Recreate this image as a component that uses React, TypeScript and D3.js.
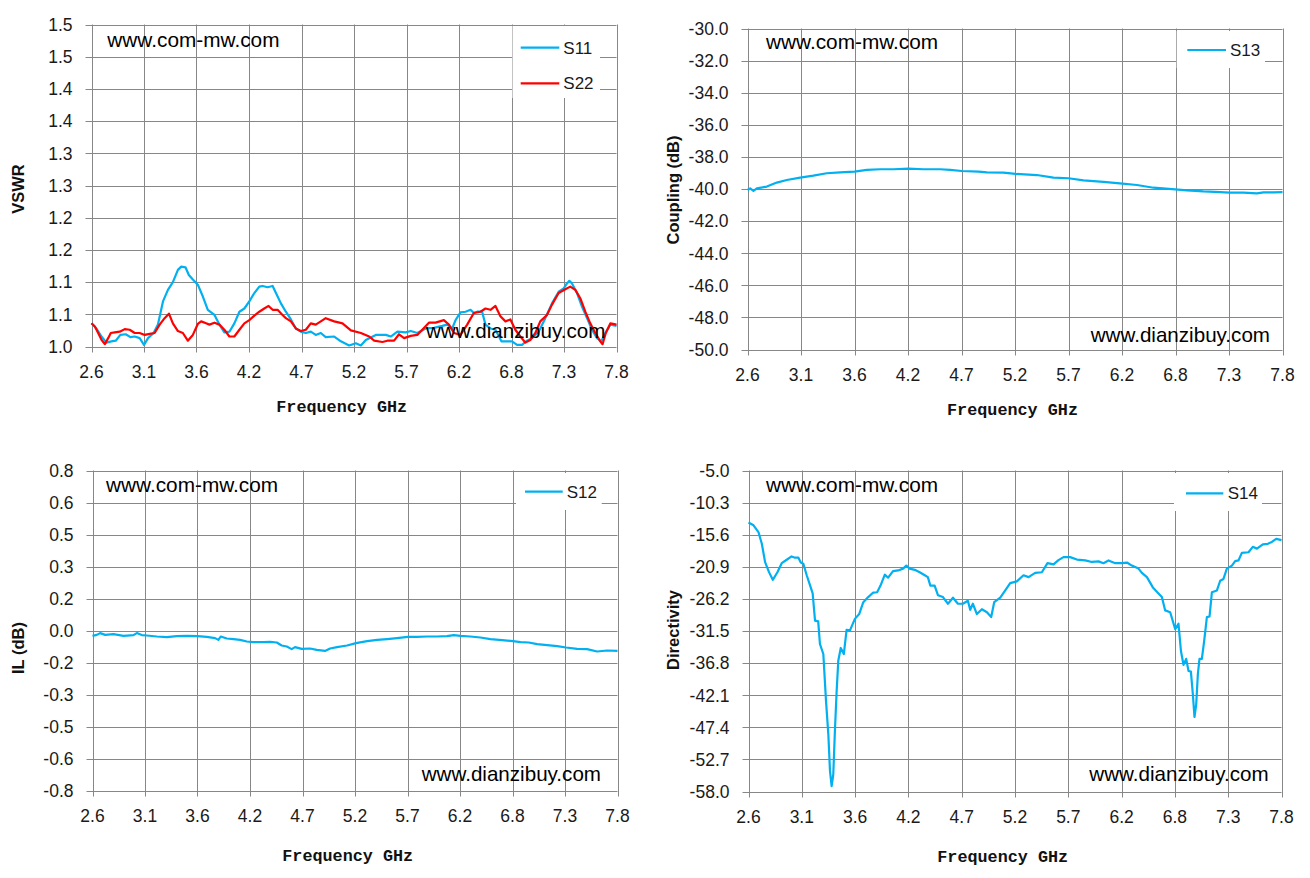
// @ts-nocheck
import React, { useEffect, useRef } from "react";
import * as d3 from "d3";

// x axis tick labels (2.6 .. 7.8 GHz in 10 equal steps)
const xTickLabels = ["2.6", "3.1", "3.6", "4.2", "4.7", "5.2", "5.7", "6.2", "6.8", "7.3", "7.8"];

// y axis tick labels, bottom to top
const vswrTickLabels = ["1.0", "1.1", "1.1", "1.2", "1.2", "1.3", "1.3", "1.4", "1.4", "1.5", "1.5"];
const couplingTickLabels = ["-50.0", "-48.0", "-46.0", "-44.0", "-42.0", "-40.0", "-38.0", "-36.0", "-34.0", "-32.0", "-30.0"];
const ilTickLabels = ["-0.8", "-0.6", "-0.5", "-0.3", "-0.2", "0.0", "0.2", "0.3", "0.5", "0.6", "0.8"];
const directivityTickLabels = ["-58.0", "-52.7", "-47.4", "-42.1", "-36.8", "-31.5", "-26.2", "-20.9", "-15.6", "-10.3", "-5.0"];

// [frequency GHz, value]
const s11 = [
  [2.6, 1.036], [2.649, 1.028], [2.699, 1.0155], [2.748, 1.006], [2.797, 1.008], [2.84, 1.009], [2.886, 1.018],
  [2.939, 1.019], [2.985, 1.0145], [3.028, 1.0155], [3.077, 1.013], [3.12, 1.0026], [3.16, 1.013], [3.215, 1.021],
  [3.258, 1.034], [3.308, 1.07], [3.357, 1.088], [3.406, 1.1], [3.456, 1.119], [3.489, 1.124], [3.531, 1.123],
  [3.564, 1.111], [3.604, 1.104], [3.653, 1.096], [3.702, 1.078], [3.752, 1.057], [3.818, 1.049], [3.867, 1.034],
  [3.916, 1.022], [3.966, 1.023], [4.015, 1.036], [4.065, 1.054], [4.114, 1.059], [4.163, 1.07], [4.213, 1.083],
  [4.262, 1.093], [4.295, 1.094], [4.344, 1.092], [4.394, 1.094], [4.427, 1.083], [4.476, 1.067], [4.525, 1.054],
  [4.575, 1.042], [4.624, 1.028], [4.673, 1.023], [4.723, 1.021], [4.772, 1.023], [4.821, 1.018], [4.871, 1.021],
  [4.92, 1.0145], [5.004, 1.0155], [5.07, 1.008], [5.152, 1.0016], [5.218, 1.005], [5.268, 1.0016], [5.317, 1.01],
  [5.416, 1.018], [5.515, 1.018], [5.564, 1.0155], [5.63, 1.023], [5.712, 1.022], [5.762, 1.024], [5.827, 1.021],
  [5.91, 1.028], [5.992, 1.029], [6.074, 1.032], [6.123, 1.034], [6.173, 1.028], [6.206, 1.041], [6.255, 1.053],
  [6.305, 1.054], [6.354, 1.057], [6.387, 1.052], [6.42, 1.054], [6.469, 1.054], [6.502, 1.034], [6.552, 1.028],
  [6.601, 1.026], [6.66, 1.008], [6.716, 1.008], [6.765, 1.008], [6.815, 1.0026], [6.864, 1.0026], [6.913, 1.009],
  [6.963, 1.013], [7.029, 1.023], [7.095, 1.044], [7.161, 1.067], [7.227, 1.085], [7.276, 1.09], [7.309, 1.098],
  [7.333, 1.102], [7.359, 1.098], [7.409, 1.083], [7.458, 1.062], [7.508, 1.044], [7.557, 1.026], [7.607, 1.013],
  [7.65, 1.008], [7.69, 1.021], [7.74, 1.034], [7.8, 1.032],
];

const s22 = [
  [2.6, 1.036], [2.633, 1.031], [2.666, 1.021], [2.699, 1.0103], [2.732, 1.0036], [2.765, 1.013], [2.791, 1.021],
  [2.83, 1.022], [2.88, 1.023], [2.929, 1.027], [2.978, 1.026], [3.028, 1.021], [3.077, 1.021], [3.127, 1.018],
  [3.176, 1.0196], [3.225, 1.021], [3.275, 1.034], [3.324, 1.044], [3.367, 1.051], [3.406, 1.036], [3.456, 1.024],
  [3.505, 1.021], [3.554, 1.009], [3.604, 1.018], [3.653, 1.035], [3.686, 1.039], [3.735, 1.036], [3.768, 1.034],
  [3.818, 1.037], [3.867, 1.034], [3.916, 1.026], [3.966, 1.0155], [4.015, 1.0155], [4.065, 1.026], [4.114, 1.036],
  [4.163, 1.041], [4.213, 1.048], [4.262, 1.054], [4.311, 1.059], [4.354, 1.063], [4.394, 1.057], [4.443, 1.057],
  [4.492, 1.049], [4.525, 1.044], [4.575, 1.039], [4.624, 1.028], [4.673, 1.024], [4.723, 1.026], [4.772, 1.036],
  [4.821, 1.034], [4.871, 1.039], [4.92, 1.044], [5.004, 1.039], [5.086, 1.036], [5.169, 1.025], [5.268, 1.021],
  [5.35, 1.0155], [5.4, 1.009], [5.481, 1.007], [5.531, 1.009], [5.597, 1.009], [5.646, 1.019], [5.696, 1.013],
  [5.762, 1.0165], [5.827, 1.018], [5.876, 1.026], [5.942, 1.037], [6.008, 1.037], [6.09, 1.041], [6.14, 1.034],
  [6.19, 1.021], [6.255, 1.018], [6.321, 1.034], [6.387, 1.052], [6.453, 1.054], [6.502, 1.059], [6.552, 1.057],
  [6.601, 1.063], [6.65, 1.047], [6.7, 1.039], [6.749, 1.042], [6.798, 1.026], [6.848, 1.0155], [6.897, 1.006],
  [6.946, 1.01], [6.996, 1.021], [7.045, 1.039], [7.111, 1.049], [7.161, 1.065], [7.227, 1.083], [7.293, 1.089],
  [7.342, 1.093], [7.392, 1.088], [7.441, 1.075], [7.491, 1.054], [7.54, 1.036], [7.59, 1.021], [7.639, 1.008],
  [7.662, 1.0036], [7.694, 1.021], [7.74, 1.036], [7.8, 1.034],
];

const s13 = [
  [2.6, -40.06], [2.626, -39.96], [2.658, -40.12], [2.691, -39.96], [2.788, -39.85], [2.885, -39.6], [2.982, -39.44],
  [3.112, -39.29], [3.24, -39.17], [3.37, -39.02], [3.5, -38.96], [3.64, -38.92], [3.76, -38.81], [3.89, -38.77],
  [4.019, -38.77], [4.165, -38.73], [4.31, -38.77], [4.473, -38.77], [4.57, -38.81], [4.683, -38.88], [4.845, -38.92],
  [4.927, -38.96], [5.088, -38.98], [5.205, -39.06], [5.413, -39.13], [5.574, -39.29], [5.72, -39.33], [5.866, -39.46],
  [6.06, -39.56], [6.245, -39.67], [6.385, -39.75], [6.546, -39.92], [6.757, -40.02], [6.871, -40.08], [7.032, -40.15],
  [7.195, -40.19], [7.285, -40.23], [7.421, -40.23], [7.551, -40.27], [7.616, -40.21], [7.713, -40.21], [7.8, -40.19],
];

const s12 = [
  [2.6, -0.027], [2.643, -0.022], [2.676, -0.013], [2.725, -0.022], [2.808, -0.018], [2.907, -0.027], [3.006, -0.023],
  [3.039, -0.013], [3.088, -0.023], [3.138, -0.025], [3.237, -0.03], [3.336, -0.033], [3.435, -0.028], [3.534, -0.027],
  [3.64, -0.028], [3.732, -0.032], [3.814, -0.038], [3.847, -0.047], [3.87, -0.03], [3.93, -0.04], [3.996, -0.043],
  [4.062, -0.047], [4.128, -0.055], [4.194, -0.058], [4.293, -0.058], [4.359, -0.057], [4.425, -0.06], [4.474, -0.075],
  [4.524, -0.08], [4.573, -0.093], [4.606, -0.083], [4.672, -0.092], [4.755, -0.09], [4.821, -0.097], [4.903, -0.102],
  [4.953, -0.09], [5.022, -0.083], [5.121, -0.075], [5.21, -0.063], [5.32, -0.053], [5.419, -0.047], [5.518, -0.043],
  [5.617, -0.038], [5.722, -0.032], [5.815, -0.032], [5.914, -0.03], [6.013, -0.03], [6.112, -0.028], [6.178, -0.023],
  [6.244, -0.027], [6.343, -0.03], [6.442, -0.035], [6.541, -0.043], [6.657, -0.048], [6.766, -0.053], [6.839, -0.058],
  [6.921, -0.06], [7.004, -0.068], [7.103, -0.073], [7.202, -0.078], [7.291, -0.085], [7.4, -0.092], [7.499, -0.093],
  [7.598, -0.105], [7.697, -0.1], [7.8, -0.102],
];

const s14 = [
  [2.6, -13.6], [2.649, -14.05], [2.697, -15.16], [2.73, -17.09], [2.762, -20.13], [2.8, -21.78], [2.837, -23.05],
  [2.882, -21.8], [2.924, -20.3], [2.973, -19.74], [3.02, -19.19], [3.054, -19.4], [3.087, -19.4], [3.11, -20.2],
  [3.135, -20.4], [3.168, -22.3], [3.207, -24.3], [3.226, -25.3], [3.249, -29.8], [3.28, -29.9], [3.297, -33.65],
  [3.33, -35.3], [3.356, -43.0], [3.379, -48.6], [3.395, -54.6], [3.411, -57.1], [3.427, -55.2], [3.443, -48.0],
  [3.46, -41.4], [3.476, -36.4], [3.5, -34.3], [3.53, -35.3], [3.557, -31.3], [3.59, -31.4], [3.638, -29.5],
  [3.68, -28.7], [3.72, -26.75], [3.768, -25.9], [3.817, -25.15], [3.855, -25.1], [3.888, -24.0], [3.93, -22.2],
  [3.962, -22.7], [4.01, -21.6], [4.06, -21.5], [4.108, -21.2], [4.14, -20.7], [4.173, -21.2], [4.222, -21.4],
  [4.27, -21.8], [4.32, -22.3], [4.35, -22.6], [4.374, -24.0], [4.416, -24.0], [4.449, -25.6], [4.497, -25.9],
  [4.546, -27.0], [4.595, -26.0], [4.643, -27.0], [4.692, -27.0], [4.74, -26.5], [4.763, -28.0], [4.789, -27.0],
  [4.828, -28.7], [4.877, -27.9], [4.926, -28.4], [4.968, -29.2], [4.997, -26.75], [5.056, -26.0], [5.105, -24.8],
  [5.153, -23.6], [5.218, -23.3], [5.283, -22.3], [5.332, -22.6], [5.397, -21.9], [5.462, -21.8], [5.517, -20.3],
  [5.576, -20.5], [5.624, -19.8], [5.673, -19.3], [5.738, -19.3], [5.804, -19.7], [5.885, -19.85], [5.95, -20.1],
  [6.015, -20.0], [6.063, -20.3], [6.112, -19.85], [6.178, -20.3], [6.243, -20.3], [6.292, -20.2], [6.34, -20.7],
  [6.405, -21.2], [6.438, -21.9], [6.487, -22.6], [6.545, -24.3], [6.6, -25.3], [6.633, -25.9], [6.665, -28.1],
  [6.714, -28.4], [6.763, -31.2], [6.795, -30.3], [6.819, -34.8], [6.844, -37.1], [6.87, -36.1], [6.893, -38.1],
  [6.916, -38.2], [6.935, -41.9], [6.951, -45.7], [6.968, -43.6], [6.984, -38.6], [7.0, -36.1], [7.023, -36.1],
  [7.046, -33.1], [7.072, -29.2], [7.098, -29.1], [7.121, -25.1], [7.17, -24.8], [7.202, -23.2], [7.234, -22.9],
  [7.267, -21.2], [7.316, -20.7], [7.348, -19.96], [7.38, -19.85], [7.413, -18.6], [7.478, -18.5], [7.52, -17.6],
  [7.56, -17.9], [7.618, -17.2], [7.667, -17.1], [7.706, -16.8], [7.748, -16.3], [7.8, -16.5],
];

const BLUE = "#00b0f0";
const RED = "#ff0000";
const GRID = "#878787";
const SANS = "'Liberation Sans', Arial, sans-serif";
const MONO = "'Liberation Mono', 'Courier New', monospace";

// layout of the four panels (page coordinates)
const panels = [
  {
    plot: { left: 91.5, right: 616.5, top: 24.5, bottom: 346.5 },
    yDomain: [1.0, 1.5],
    yLabels: vswrTickLabels,
    yTitle: "VSWR",
    yTitlePos: [18.5, 189],
    xTitlePos: [341.7, 411.5],
    series: [
      { name: "S11", data: s11, color: BLUE },
      { name: "S22", data: s22, color: RED },
    ],
    legendBox: [512.5, 26, 87.5, 72],
    legendRows: [
      { x1: 520.7, x2: 559.3, y: 47.7, tx: 563.3 },
      { x1: 520.7, x2: 559.3, y: 83.3, tx: 563.3 },
    ],
    mw: [107.3, 46.7],
    dz: [426, 338.3],
  },
  {
    plot: { left: 747.5, right: 1282.5, top: 28.5, bottom: 349.5 },
    yDomain: [-50, -30],
    yLabels: couplingTickLabels,
    yTitle: "Coupling (dB)",
    yTitlePos: [673.3, 190],
    xTitlePos: [1012.5, 415],
    series: [{ name: "S13", data: s13, color: BLUE }],
    legendBox: [1176.7, 31, 88.3, 37],
    legendRows: [{ x1: 1187.3, x2: 1226, y: 50, tx: 1230 }],
    mw: [766, 49.3],
    dz: [1090.7, 341.7],
  },
  {
    plot: { left: 92.5, right: 617.5, top: 470.5, bottom: 790.5 },
    yDomain: [-0.8, 0.8],
    yLabels: ilTickLabels,
    yTitle: "IL (dB)",
    yTitlePos: [18.5, 648],
    xTitlePos: [347.7, 860.7],
    series: [{ name: "S12", data: s12, color: BLUE }],
    legendBox: [516, 473, 85.7, 37],
    legendRows: [{ x1: 525, x2: 562.7, y: 491.7, tx: 566.7 }],
    mw: [106, 491.7],
    dz: [421.7, 780.7],
  },
  {
    plot: { left: 748.5, right: 1281.5, top: 470.5, bottom: 791.5 },
    yDomain: [-58, -5],
    yLabels: directivityTickLabels,
    yTitle: "Directivity",
    yTitlePos: [672.7, 630],
    xTitlePos: [1002.7, 861.7],
    series: [{ name: "S14", data: s14, color: BLUE }],
    legendBox: [1174, 473, 88, 38],
    legendRows: [{ x1: 1186, x2: 1223.3, y: 493.3, tx: 1227.7 }],
    mw: [766, 492.3],
    dz: [1089.3, 780.7],
  },
];

function drawPanel(svg, p) {
  const { left, right, top, bottom } = p.plot;
  const x = d3.scaleLinear().domain([2.6, 7.8]).range([left, right]);
  const y = d3.scaleLinear().domain(p.yDomain).range([bottom, top]);
  const xTicks = d3.range(xTickLabels.length).map((i) => 2.6 + (i * (7.8 - 2.6)) / (xTickLabels.length - 1));
  const [y0, y1] = p.yDomain;
  const yTicks = d3.range(p.yLabels.length).map((i) => y0 + (i * (y1 - y0)) / (p.yLabels.length - 1));

  const g = svg.append("g");

  // grid
  g.selectAll(".vgrid")
    .data(xTicks)
    .enter()
    .append("line")
    .attr("x1", (d) => Math.round(x(d)) + 0.5)
    .attr("x2", (d) => Math.round(x(d)) + 0.5)
    .attr("y1", top)
    .attr("y2", bottom + 6)
    .attr("stroke", GRID)
    .attr("stroke-width", 1);
  g.selectAll(".hgrid")
    .data(yTicks)
    .enter()
    .append("line")
    .attr("x1", left - 6)
    .attr("x2", right)
    .attr("y1", (d) => Math.round(y(d)) + 0.5)
    .attr("y2", (d) => Math.round(y(d)) + 0.5)
    .attr("stroke", GRID)
    .attr("stroke-width", 1);

  // tick labels
  g.selectAll(".ylab")
    .data(yTicks)
    .enter()
    .append("text")
    .attr("x", left - 19)
    .attr("y", (d) => y(d))
    .attr("dy", "0.36em")
    .attr("text-anchor", "end")
    .style("font-family", SANS)
    .style("font-size", "17.5px")
    .style("fill", "#1a1a1a")
    .text((d, i) => p.yLabels[i]);
  g.selectAll(".xlab")
    .data(xTicks)
    .enter()
    .append("text")
    .attr("x", (d) => x(d))
    .attr("y", bottom + 31)
    .attr("text-anchor", "middle")
    .style("font-family", SANS)
    .style("font-size", "17.5px")
    .style("fill", "#1a1a1a")
    .text((d, i) => xTickLabels[i]);

  // series
  const line = d3
    .line()
    .x((d) => x(d[0]))
    .y((d) => y(d[1]));
  p.series.forEach((s) => {
    g.append("path")
      .datum(s.data)
      .attr("d", line)
      .attr("fill", "none")
      .attr("stroke", s.color)
      .attr("stroke-width", 2.2)
      .attr("stroke-linejoin", "round");
  });

  // legend
  const [bx, by, bw, bh] = p.legendBox;
  g.append("rect").attr("x", bx).attr("y", by).attr("width", bw).attr("height", bh).attr("fill", "#ffffff");
  p.series.forEach((s, i) => {
    const r = p.legendRows[i];
    g.append("line")
      .attr("x1", r.x1)
      .attr("x2", r.x2)
      .attr("y1", r.y)
      .attr("y2", r.y)
      .attr("stroke", s.color)
      .attr("stroke-width", 2.2);
    g.append("text")
      .attr("x", r.tx)
      .attr("y", r.y)
      .attr("dy", "0.36em")
      .style("font-family", SANS)
      .style("font-size", "17px")
      .style("fill", "#1a1a1a")
      .text(s.name);
  });

  // watermarks
  g.append("text")
    .attr("x", p.mw[0])
    .attr("y", p.mw[1])
    .style("font-family", SANS)
    .style("font-size", "20.8px")
    .style("fill", "#000")
    .text("www.com-mw.com");
  g.append("text")
    .attr("x", p.dz[0])
    .attr("y", p.dz[1])
    .style("font-family", SANS)
    .style("font-size", "20.6px")
    .style("fill", "#000")
    .text("www.dianzibuy.com");

  // axis titles
  g.append("text")
    .attr("x", p.xTitlePos[0])
    .attr("y", p.xTitlePos[1])
    .attr("text-anchor", "middle")
    .style("font-family", MONO)
    .style("font-weight", "bold")
    .style("font-size", "16.8px")
    .style("fill", "#111")
    .text("Frequency GHz");
  g.append("text")
    .attr("transform", `translate(${p.yTitlePos[0]},${p.yTitlePos[1]}) rotate(-90)`)
    .attr("text-anchor", "middle")
    .attr("dy", "0.36em")
    .style("font-family", SANS)
    .style("font-weight", "bold")
    .style("font-size", "16.5px")
    .style("fill", "#111")
    .text(p.yTitle);
}

export default function App() {
  const ref = useRef();

  useEffect(() => {
    const svg = d3.select(ref.current);
    svg.selectAll("*").remove();
    svg.append("rect").attr("width", 1310).attr("height", 878).attr("fill", "#ffffff");
    panels.forEach((p) => drawPanel(svg, p));
  }, []);

  return (
    <svg
      ref={ref}
      width={1310}
      height={878}
      style={{ position: "absolute", left: 0, top: 0, display: "block" }}
    />
  );
}
